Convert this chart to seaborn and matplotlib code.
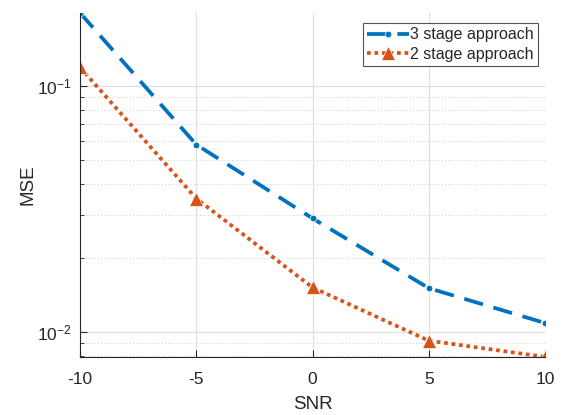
import numpy as np
import pandas as pd
import matplotlib
matplotlib.use("Agg")
import matplotlib.pyplot as plt
from matplotlib.ticker import LogLocator, NullFormatter
import seaborn as sb

# data
snr = [-10, -5, 0, 5, 10]
mse_3stage = [0.198, 0.0578, 0.0290, 0.0151, 0.0109]
mse_2stage = [0.119, 0.0349, 0.0152, 0.00924, 0.00794]
labels = ["3 stage approach", "2 stage approach"]

df = pd.DataFrame({
    "SNR": snr * 2,
    "MSE": mse_3stage + mse_2stage,
    "method": [labels[0]] * len(snr) + [labels[1]] * len(snr),
})

sb.set_style("white")
plt.rcParams["font.family"] = ["Liberation Sans", "DejaVu Sans"]
plt.rcParams["mathtext.fontset"] = "custom"
plt.rcParams["mathtext.rm"] = "Liberation Sans"
plt.rcParams["axes.unicode_minus"] = False

fig = plt.figure(figsize=(5.65, 4.15), dpi=100)
ax = fig.add_axes([0.1416, 0.140, 0.823, 0.829])

ax.set_yscale("log")
ax = sb.lineplot(data=df, x="SNR", y="MSE", hue="method", style="method",
                 palette={labels[0]: "#0072BD", labels[1]: "#D95319"},
                 dashes={labels[0]: (5.2, 2.9), labels[1]: (1, 1.0)},
                 markers={labels[0]: ".", labels[1]: "^"},
                 linewidth=2.7, markersize=9.5, markeredgewidth=0.5,
                 ax=ax, legend="full")

ax.set_xlim(-10, 10)
ax.set_ylim(0.00794, 0.198)
ax.set_xticks([-10, -5, 0, 5, 10])
ax.yaxis.set_minor_locator(LogLocator(base=10, subs=np.arange(2, 10)))
ax.yaxis.set_minor_formatter(NullFormatter())

ax.grid(True, which="major", color="#dedede", linewidth=0.8, linestyle="-")
ax.grid(True, which="minor", axis="y", color="#cfcfcf", linewidth=0.7, linestyle=(0, (1, 2)))
ax.set_axisbelow(True)

for s in ["top", "right"]:
    ax.spines[s].set_visible(False)
for s in ["left", "bottom"]:
    ax.spines[s].set_color("#262626")
    ax.spines[s].set_linewidth(0.8)

ax.tick_params(axis="both", which="both", direction="in", colors="#262626",
               labelsize=12.5, left=True, bottom=True)
ax.tick_params(axis="both", which="major", length=5)
ax.tick_params(axis="y", which="minor", length=3)
ax.tick_params(axis="x", pad=11)
ax.tick_params(axis="y", pad=6)

ax.set_xlabel("SNR", fontsize=13.5, color="#262626", labelpad=6)
ax.set_ylabel("MSE", fontsize=13.5, color="#262626", labelpad=0)

leg = ax.legend(loc="upper right", bbox_to_anchor=(0.985, 0.97), fontsize=11.5,
                frameon=True, fancybox=False, handlelength=2.6, handletextpad=0.1,
                borderpad=0.25, labelspacing=0.3, borderaxespad=0)
leg.get_frame().set_edgecolor("#262626")
leg.get_frame().set_linewidth(0.8)

plt.savefig("out.png", dpi=100)
